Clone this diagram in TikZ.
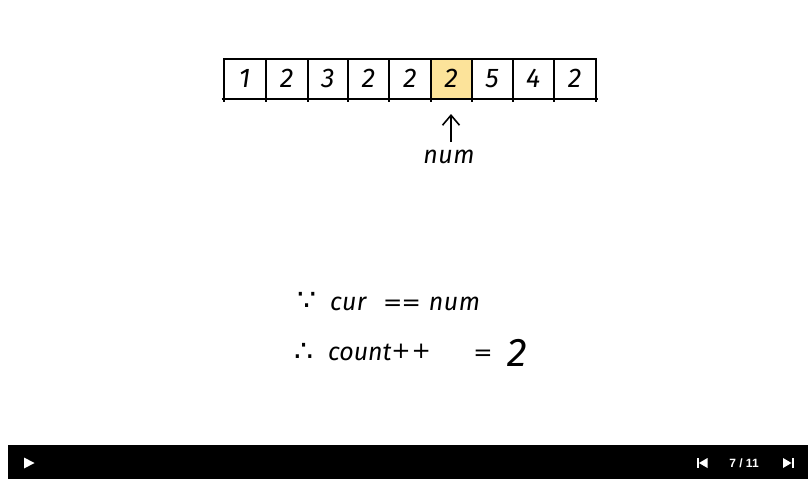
\documentclass[tikz,border=0pt]{standalone}
\usepackage{fontspec}
\newfontfamily\symfont{DejaVu Sans}
\newfontfamily\handfont[LetterSpace=2]{Fira Sans}
\newfontfamily\tightfont{Fira Sans}
\setsansfont{Liberation Sans}
\usetikzlibrary{arrows.meta}
\definecolor{hilite}{RGB}{252,227,154}
\tikzset{
  cell/.style={draw=black,line width=2pt,minimum height=40pt,inner sep=0pt,outer sep=0pt,font=\handfont\itshape\fontsize{27}{28}\selectfont,text=black},
  tick/.style={line width=2pt,black},
  hand/.style={inner sep=0pt,outer sep=0pt,text=black,font=\handfont\itshape\fontsize{25}{28}\selectfont},
  oper/.style={inner sep=0pt,outer sep=0pt,text=black,font=\symfont\fontsize{23}{28}\selectfont},
  dots/.style={inner sep=0pt,outer sep=0pt,text=black,font=\symfont\fontsize{30}{32}\selectfont},
  ptr/.style={line width=1.6pt,black,-{Straight Barb[length=10pt,width=17pt,line width=1.6pt]}},
}
\begin{document}
\begin{tikzpicture}[x=1pt,y=-1pt]
\useasboundingbox (0,0) rectangle (812,479);
\fill[white] (0,0) rectangle (812,479);
% array
\node[cell,minimum width=42.5pt] (c1) at (244.75,78.5) {\raisebox{-1pt}{1}};
\node[cell,minimum width=41.5pt] (c2) at (286.75,78.5) {\raisebox{-1pt}{2}};
\node[cell,minimum width=40.5pt] (c3) at (327.75,78.5) {\raisebox{-1pt}{3}};
\node[cell,minimum width=41pt]   (c4) at (368.5,78.5) {\raisebox{-1pt}{2}};
\node[cell,minimum width=42pt]   (c5) at (410,78.5) {\raisebox{-1pt}{2}};
\node[cell,minimum width=40.5pt,fill=hilite] (c6) at (451.25,78.5) {\raisebox{-1pt}{2}};
\node[cell,minimum width=41pt]   (c7) at (492,78.5) {\raisebox{-1pt}{5}};
\node[cell,minimum width=41.5pt] (c8) at (533.25,78.5) {\raisebox{-1pt}{4}};
\node[cell,minimum width=41.5pt] (c9) at (574.75,78.5) {\raisebox{-1pt}{2}};
% baseline with small ticks
\coordinate (bl) at ([xshift=-2pt]c1.south west);
\coordinate (br) at ([xshift=2pt]c9.south east);
\draw[tick] (bl) -- (br);
\foreach \n in {1,...,9} {
  \draw[tick] (c\n.south west) -- ++(0,3.5);
}
\draw[tick] (c9.south east) -- ++(0,3.5);
% pointer
\node[hand] (num) at (449,157) {num};
\coordinate (tip) at (451,114);
\coordinate (tail) at (451,142);
\draw[ptr] (tail) -- (tip);
% reasoning
\node[dots] (because) at (307,301) {∵};
\node[hand,anchor=west] (cur) at (330,304) {cur};
\node[oper] (eqeq) at (402,305) {=\kern-1pt=};
\node[hand,anchor=east] (num2) at (480,304) {num};
\node[dots] (therefore) at (304,352) {∴};
\node[hand,font=\tightfont\itshape\fontsize{25}{28}\selectfont,anchor=west] (count) at (328,352) {count};
\node[oper,anchor=east] (plus) at (431,351) {+\kern1pt+};
\node[oper] (eq) at (483,355) {=};
\node[hand,font=\handfont\itshape\fontsize{40}{42}\selectfont] (two) at (517,353) {2};
% control bar
\fill[black] (8,445) rectangle (808,479);
\fill[white] (24,457.5) -- (34.5,463) -- (24,468.5) -- cycle;
\fill[white] (697,458) rectangle (699,468);
\fill[white] (707.5,458) -- (699,463) -- (707.5,468) -- cycle;
\fill[white] (783,458) -- (791.5,463) -- (783,468) -- cycle;
\fill[white] (791.5,458) rectangle (793.5,468);
\node[inner sep=0pt,text=white,font=\sffamily\bfseries\fontsize{12}{14}\selectfont] (pg) at (744,463) {7 / 11};
\end{tikzpicture}
\end{document}
